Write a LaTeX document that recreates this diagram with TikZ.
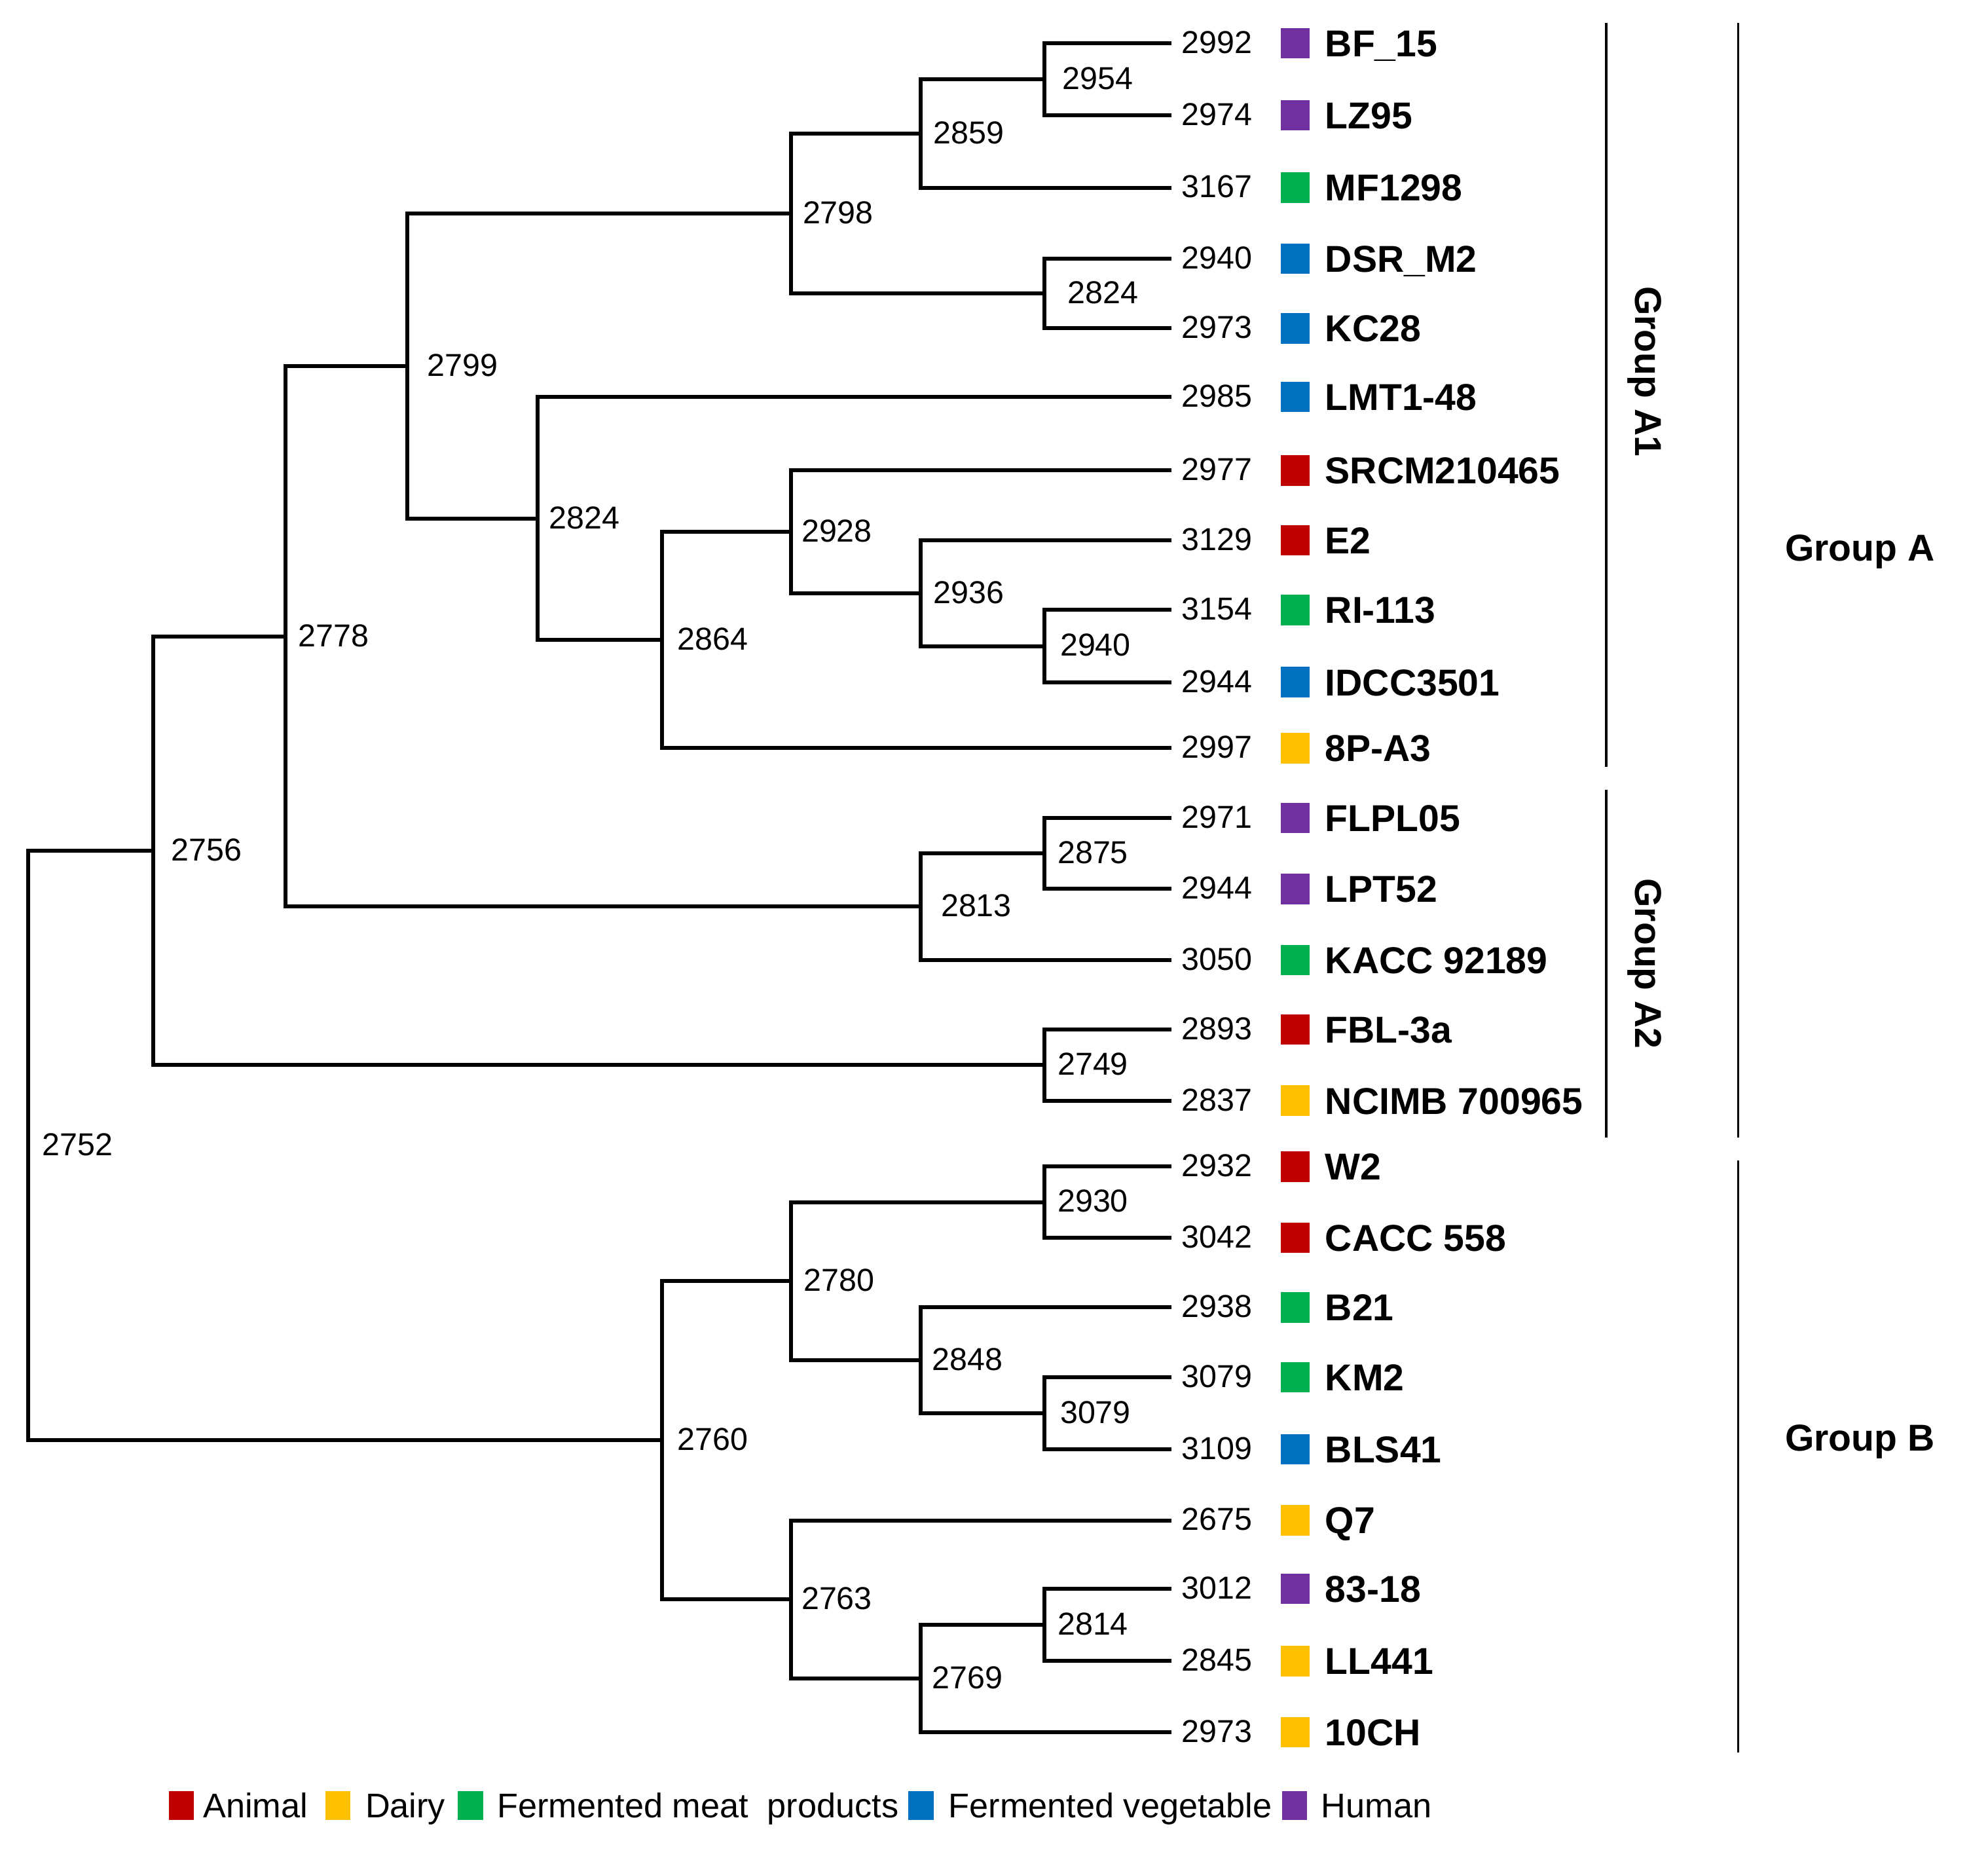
\documentclass[tikz,border=0pt]{standalone}
\usepackage{fontspec}
\setmainfont{Liberation Sans}
\definecolor{cAnimal}{HTML}{C00000}
\definecolor{cDairy}{HTML}{FFC000}
\definecolor{cMeat}{HTML}{00B050}
\definecolor{cVeg}{HTML}{0070C0}
\definecolor{cHuman}{HTML}{7030A0}
\begin{document}
\begin{tikzpicture}[x=1pt,y=-1pt,
  branch/.style={line width=3.1pt, line join=miter},
  grpbar/.style={line width=1.8pt},
  num/.style={inner sep=0pt, anchor=west, font=\fontsize{25}{30}\selectfont, text height=17.9pt, text depth=0pt},
  lab/.style={inner sep=0pt, anchor=west, font=\fontsize{29.5}{35}\selectfont\bfseries, text height=21.1pt, text depth=0pt},
  grp/.style={inner sep=0pt, font=\fontsize{29.5}{35}\selectfont\bfseries},
  sq/.style={inner sep=0pt, minimum width=23pt, minimum height=24pt},
  lsq/.style={inner sep=0pt, minimum width=20pt, minimum height=23pt},
  leg/.style={inner sep=0pt, anchor=west, font=\fontsize{27}{32}\selectfont, text height=19.3pt, text depth=0pt}]
\useasboundingbox (0,0) rectangle (1568,1462);

% leaves
\foreach \i/\yy/\nn/\cc/\lbl in {
 1/34/2992/cHuman/BF\_15,
 2/91/2974/cHuman/LZ95,
 3/148/3167/cMeat/MF1298,
 4/204/2940/cVeg/DSR\_M2,
 5/259/2973/cVeg/KC28,
 6/313/2985/cVeg/LMT1-48,
 7/371/2977/cAnimal/SRCM210465,
 8/426/3129/cAnimal/E2,
 9/481/3154/cMeat/RI-113,
 10/538/2944/cVeg/IDCC3501,
 11/590/2997/cDairy/8P-A3,
 12/645/2971/cHuman/FLPL05,
 13/701/2944/cHuman/LPT52,
 14/757/3050/cMeat/KACC 92189,
 15/812/2893/cAnimal/FBL-3a,
 16/868/2837/cDairy/NCIMB 700965,
 17/920/2932/cAnimal/W2,
 18/976/3042/cAnimal/CACC 558,
 19/1031/2938/cMeat/B21,
 20/1086/3079/cMeat/KM2,
 21/1143/3109/cVeg/BLS41,
 22/1199/2675/cDairy/Q7,
 23/1253/3012/cHuman/83-18,
 24/1310/2845/cDairy/LL441,
 25/1366/2973/cDairy/10CH}{
  \coordinate (L\i) at (924,\yy);
  \node[num] (V\i) at (932,\yy-1) {\nn};
  \node[sq, fill=\cc] (S\i) at (1021.5,\yy) {};
  \node[lab] (T\i) at (1045,\yy) {\lbl};
}

% internal nodes: name/x/y/label x/label
\foreach \n/\xx/\yy/\lx/\txt in {
 a/824/62.5/838/2954,
 b/726/105.25/736/2859,
 c/824/231.5/842/2824,
 d/624/168.4/633/2798,
 e/824/509.5/836/2940,
 f/726/467.75/736/2936,
 g/624/419.4/632/2928,
 h/522/504.7/534/2864,
 i/424/408.85/433/2824,
 j/321/288.6/337/2799,
 k/824/673/834/2875,
 l/726/715/742/2813,
 m/225/501.8/235/2778,
 n/824/840/834/2749,
 o/121/670.9/135/2756,
 p/824/948/834/2930,
 q/824/1114.5/836/3079,
 r/726/1072.75/735/2848,
 s/624/1010.4/634/2780,
 t/824/1281.5/834/2814,
 u/726/1323.75/735/2769,
 v/624/1261.4/632/2763,
 w/522/1135.9/534/2760,
 x/22/903.4/33/2752}{
  \coordinate (N\n) at (\xx,\yy);
  \node[num] (B\n) at (\lx,\yy-1) {\txt};
}

% branches
\foreach \p/\c in {Na/L1,Na/L2,Nb/Na,Nb/L3,Nc/L4,Nc/L5,Nd/Nb,Nd/Nc,
  Ne/L9,Ne/L10,Nf/L8,Nf/Ne,Ng/L7,Ng/Nf,Nh/Ng,Nh/L11,Ni/L6,Ni/Nh,
  Nj/Nd,Nj/Ni,Nk/L12,Nk/L13,Nl/Nk,Nl/L14,Nm/Nj,Nm/Nl,Nn/L15,Nn/L16,
  No/Nm,No/Nn,Np/L17,Np/L18,Nq/L20,Nq/L21,Nr/L19,Nr/Nq,Ns/Np,Ns/Nr,
  Nt/L23,Nt/L24,Nu/Nt,Nu/L25,Nv/L22,Nv/Nu,Nw/Ns,Nw/Nv,Nx/No,Nx/Nw}{
  \draw[branch] (\p) |- (\c);
}

% group bars
\coordinate (GA1t) at (1267,18);   \coordinate (GA1b) at (1267,605);
\coordinate (GA2t) at (1267,623);  \coordinate (GA2b) at (1267,897);
\coordinate (GAt) at (1371,18);    \coordinate (GAb) at (1371,897);
\coordinate (GBt) at (1371,915);   \coordinate (GBb) at (1371,1382);
\draw[grpbar] (GA1t) -- (GA1b);
\draw[grpbar] (GA2t) -- (GA2b);
\draw[grpbar] (GAt) -- (GAb);
\draw[grpbar] (GBt) -- (GBb);
\node[grp, rotate=-90] (gA1) at (1297,293) {Group A1};
\node[grp, rotate=-90] (gA2) at (1297,760) {Group A2};
\node[grp] (gA) at (1467,435) {Group A};
\node[grp] (gB) at (1467,1137) {Group B};

% legend
\node[lsq, fill=cAnimal] (q1) at (143,1424) {};
\node[leg] (w1) at (160,1424) {Animal};
\node[lsq, fill=cDairy] (q2) at (266.5,1424) {};
\node[leg] (w2) at (288,1424) {Dairy};
\node[lsq, fill=cMeat] (q3) at (371,1424) {};
\node[leg] (w3) at (392,1424) {Fermented meat\ \ products};
\node[lsq, fill=cVeg] (q4) at (726.5,1424) {};
\node[leg] (w4) at (748,1424) {Fermented vegetable};
\node[lsq, fill=cHuman] (q5) at (1021,1424) {};
\node[leg] (w5) at (1042,1424) {Human};
\end{tikzpicture}
\end{document}
